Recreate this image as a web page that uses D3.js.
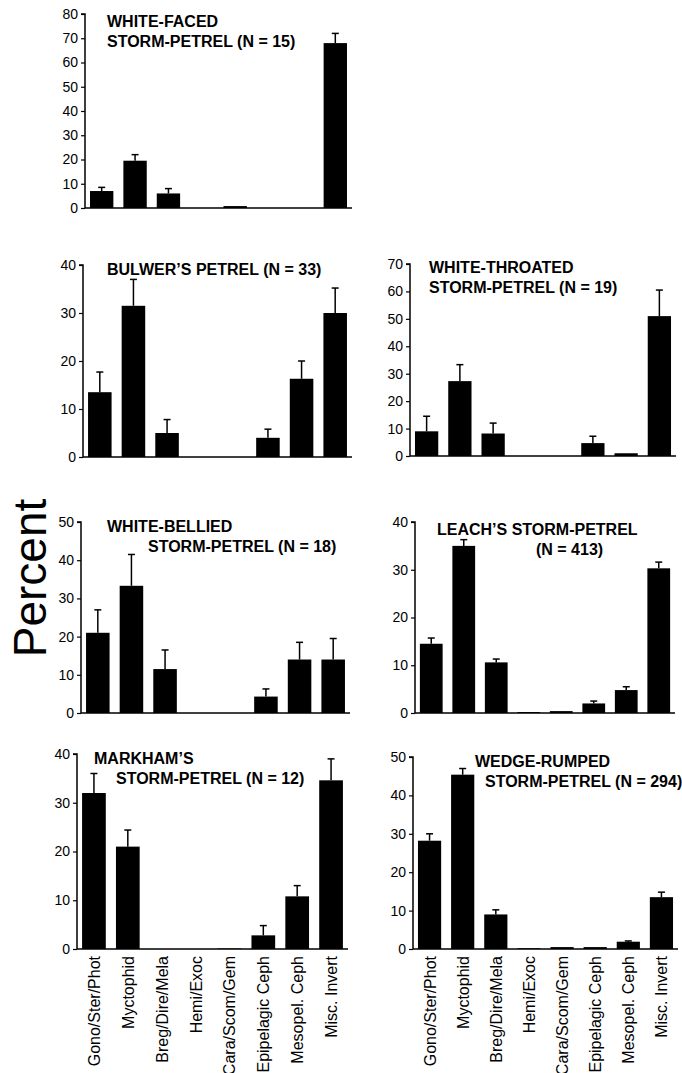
<!DOCTYPE html>
<html lang="en">
<head>
  <meta charset="UTF-8">
  <title>Storm-petrel diets</title>
  <script src="https://cdnjs.cloudflare.com/ajax/libs/d3/7.8.5/d3.min.js"></script>
  <style>
    body { margin: 0; background: #fff; }
    svg { font-family: "Liberation Sans", Arial, sans-serif; }
  </style>
</head>
<body>
  <svg width="682" height="1073"></svg>
  <script>
    const categories = ['Gono/Ster/Phot', 'Myctophid', 'Breg/Dire/Mela', 'Hemi/Exoc',
      'Cara/Scom/Gem', 'Epipelagic Ceph', 'Mesopel. Ceph', 'Misc. Invert'];

    // percent of samples, and the error bar length above each bar
    const whiteFaced = [7, 19.5, 6, 0, 0.8, 0, 0, 68];
    const whiteFacedErr = [1.5, 2.5, 2, 0, 0, 0, 0, 4];
    const bulwers = [13.5, 31.5, 5, 0, 0, 4, 16.3, 30];
    const bulwersErr = [4.2, 5.5, 2.8, 0, 0, 1.8, 3.7, 5.2];
    const whiteThroated = [9, 27.3, 8.2, 0, 0, 4.7, 1, 51];
    const whiteThroatedErr = [5.5, 6, 3.8, 0, 0, 2.5, 0, 9.5];
    const whiteBellied = [21, 33.3, 11.5, 0, 0, 4.3, 14, 14];
    const whiteBelliedErr = [6, 8.2, 5, 0, 0, 2, 4.5, 5.5];
    const leachs = [14.5, 35, 10.6, 0.2, 0.4, 2, 4.8, 30.3];
    const leachsErr = [1.2, 1.3, 0.7, 0, 0, 0.5, 0.7, 1.3];
    const markhams = [32, 21, 0, 0, 0.1, 2.8, 10.8, 34.6];
    const markhamsErr = [4, 3.4, 0, 0, 0, 2, 2.2, 4.4];
    const wedgeRumped = [28.2, 45.4, 9, 0.2, 0.5, 0.5, 1.9, 13.5];
    const wedgeRumpedErr = [1.8, 1.6, 1.2, 0, 0, 0, 0.2, 1.3];

    const yMax = [80, 40, 70, 50, 40, 40, 50];

    const titles = [
      [['WHITE-FACED', 0], ['STORM-PETREL (N = 15)', 0]],
      [["BULWER\u2019S PETREL (N = 33)", 0]],
      [['WHITE-THROATED', 0], ['STORM-PETREL (N = 19)', 0]],
      [['WHITE-BELLIED', 0], ['STORM-PETREL (N = 18)', 41]],
      [["LEACH\u2019S STORM-PETREL", 0], ['(N = 413)', 99]],
      [["MARKHAM\u2019S", 0], ['STORM-PETREL (N = 12)', 22]],
      [['WEDGE-RUMPED', 0], ['STORM-PETREL (N = 294)', 10]]
    ];

    // panel frames: axis x, right end, top (max tick), bottom (zero), title baseline
    const panels = [
      { vals: whiteFaced, errs: whiteFacedErr, x0: 85, x1: 352, y0: 14, y1: 208, tx: 107, ty: 27, labels: false },
      { vals: bulwers, errs: bulwersErr, x0: 83, x1: 352, y0: 265, y1: 457, tx: 107, ty: 275, labels: false },
      { vals: whiteThroated, errs: whiteThroatedErr, x0: 410, x1: 676, y0: 264, y1: 456, tx: 429, ty: 273, labels: false },
      { vals: whiteBellied, errs: whiteBelliedErr, x0: 81, x1: 350, y0: 522, y1: 713, tx: 107, ty: 532, labels: false },
      { vals: leachs, errs: leachsErr, x0: 415, x1: 675, y0: 522, y1: 713, tx: 437, ty: 535, labels: false },
      { vals: markhams, errs: markhamsErr, x0: 77, x1: 348, y0: 754, y1: 949, tx: 94, ty: 764, labels: true },
      { vals: wedgeRumped, errs: wedgeRumpedErr, x0: 413, x1: 678, y0: 757, y1: 949, tx: 475, ty: 767, labels: true }
    ];

    const svg = d3.select('svg');

    panels.forEach((p, k) => {
      const g = svg.append('g');
      const x = d3.scaleBand().domain(categories).range([p.x0, p.x1])
        .paddingInner(0.3).paddingOuter(0.15);
      const y = d3.scaleLinear().domain([0, yMax[k]]).range([p.y1, p.y0]);

      const yAxis = d3.axisLeft(y).tickValues(d3.range(0, yMax[k] + 1, 10))
        .tickSize(4).tickPadding(3);
      g.append('g').attr('transform', `translate(${p.x0},0)`).call(yAxis)
        .call(a => a.select('.domain').attr('d', `M-4,${p.y0}H0V${p.y1}`).attr('stroke-width', 1.5))
        .call(a => a.selectAll('line').attr('stroke-width', 1.2))
        .call(a => a.selectAll('text').style('font-size', '14px').attr('fill', '#000'));

      g.append('line')
        .attr('x1', p.x0).attr('x2', p.x1)
        .attr('y1', p.y1).attr('y2', p.y1)
        .attr('stroke', '#000').attr('stroke-width', 1.5);

      const data = categories.map((c, i) => ({ c, v: p.vals[i], e: p.errs[i] }));

      g.selectAll('rect').data(data).enter().append('rect')
        .attr('x', d => x(d.c))
        .attr('width', x.bandwidth())
        .attr('y', d => y(d.v))
        .attr('height', d => y(0) - y(d.v))
        .attr('fill', '#000');

      const eb = g.selectAll('.err').data(data.filter(d => d.e > 0)).enter().append('g');
      eb.append('line')
        .attr('x1', d => x(d.c) + x.bandwidth() / 2).attr('x2', d => x(d.c) + x.bandwidth() / 2)
        .attr('y1', d => y(d.v)).attr('y2', d => y(d.v + d.e))
        .attr('stroke', '#000').attr('stroke-width', 1.5);
      eb.append('line')
        .attr('x1', d => x(d.c) + x.bandwidth() / 2 - 3.5).attr('x2', d => x(d.c) + x.bandwidth() / 2 + 3.5)
        .attr('y1', d => y(d.v + d.e)).attr('y2', d => y(d.v + d.e))
        .attr('stroke', '#000').attr('stroke-width', 1.5);

      titles[k].forEach((t, j) => {
        g.append('text')
          .attr('x', p.tx + t[1])
          .attr('y', p.ty + j * 20)
          .style('font-size', '16px').style('font-weight', 'bold')
          .text(t[0]);
      });

      if (p.labels) {
        g.selectAll('.lab').data(categories).enter().append('text')
          .attr('transform', d => `translate(${x(d) + x.bandwidth() / 2 + 6},${p.y1 + 7}) rotate(-90)`)
          .attr('text-anchor', 'end')
          .style('font-size', '16px')
          .text(d => d);
      }
    });

    svg.append('text')
      .attr('transform', 'translate(46,578) rotate(-90)')
      .attr('text-anchor', 'middle')
      .style('font-size', '46px')
      .text('Percent');
  </script>
</body>
</html>
